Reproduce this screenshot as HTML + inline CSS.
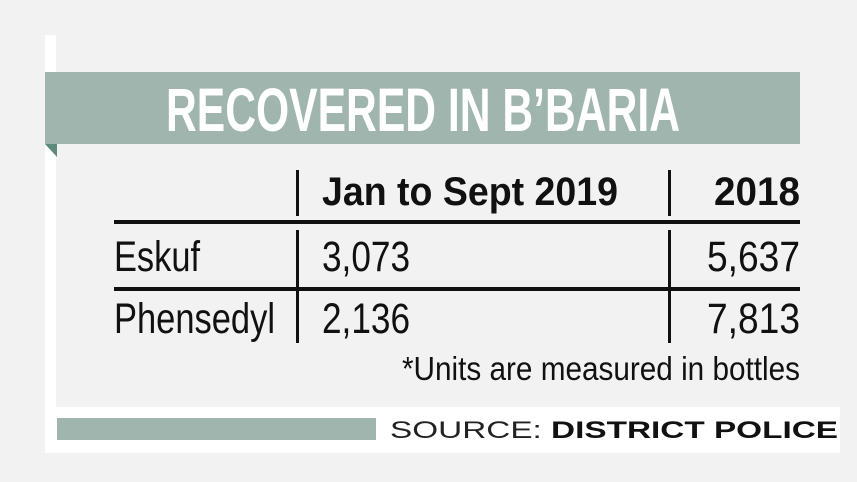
<!DOCTYPE html>
<html><head><style>html,body{margin:0;padding:0;background:#f2f2f2;}svg{display:block}</style></head>
<body>
<svg width="857" height="482" xmlns="http://www.w3.org/2000/svg" font-family="Liberation Sans, sans-serif">
<rect width="857" height="482" fill="#f2f2f2"/>
<rect x="45" y="35" width="795" height="418" fill="#ffffff"/>
<rect x="56" y="35" width="784" height="372" fill="#f2f2f2"/>
<rect x="45" y="72" width="755" height="72" fill="#9fb5ad"/>
<polygon points="45,144 57,144 57,157" fill="#5f8a7e"/>
<text x="166" y="131" font-size="61" font-weight="bold" fill="#fff" textLength="514" lengthAdjust="spacingAndGlyphs">RECOVERED IN B’BARIA</text>
<rect x="296" y="170" width="3" height="46" fill="#111"/>
<rect x="668" y="170" width="3" height="46" fill="#111"/>
<rect x="296" y="230" width="3" height="113" fill="#111"/>
<rect x="668" y="230" width="3" height="113" fill="#111"/>
<rect x="114" y="220" width="686" height="4" fill="#111"/>
<rect x="114" y="287" width="686" height="4" fill="#111"/>
<text x="322" y="205" font-size="40" font-weight="bold" fill="#111" textLength="296" lengthAdjust="spacingAndGlyphs">Jan to Sept 2019</text>
<text x="714" y="205" font-size="40" font-weight="bold" fill="#111" textLength="86" lengthAdjust="spacingAndGlyphs">2018</text>
<text x="114" y="271" font-size="43" fill="#111" textLength="86" lengthAdjust="spacingAndGlyphs">Eskuf</text>
<text x="322" y="271" font-size="43" fill="#111" textLength="88" lengthAdjust="spacingAndGlyphs">3,073</text>
<text x="707" y="271" font-size="43" fill="#111" textLength="93" lengthAdjust="spacingAndGlyphs">5,637</text>
<text x="114" y="333" font-size="43" fill="#111" textLength="161" lengthAdjust="spacingAndGlyphs">Phensedyl</text>
<text x="322" y="333" font-size="43" fill="#111" textLength="88" lengthAdjust="spacingAndGlyphs">2,136</text>
<text x="707" y="333" font-size="43" fill="#111" textLength="93" lengthAdjust="spacingAndGlyphs">7,813</text>
<text x="402" y="380" font-size="33" fill="#111" textLength="398" lengthAdjust="spacingAndGlyphs">*Units are measured in bottles</text>
<rect x="57" y="418" width="319" height="22" fill="#9fb5ad"/>
<text x="390" y="438" font-size="24" fill="#222" textLength="448" lengthAdjust="spacingAndGlyphs">SOURCE: <tspan font-weight="bold" fill="#111">DISTRICT POLICE</tspan></text>
</svg>
</body></html>
